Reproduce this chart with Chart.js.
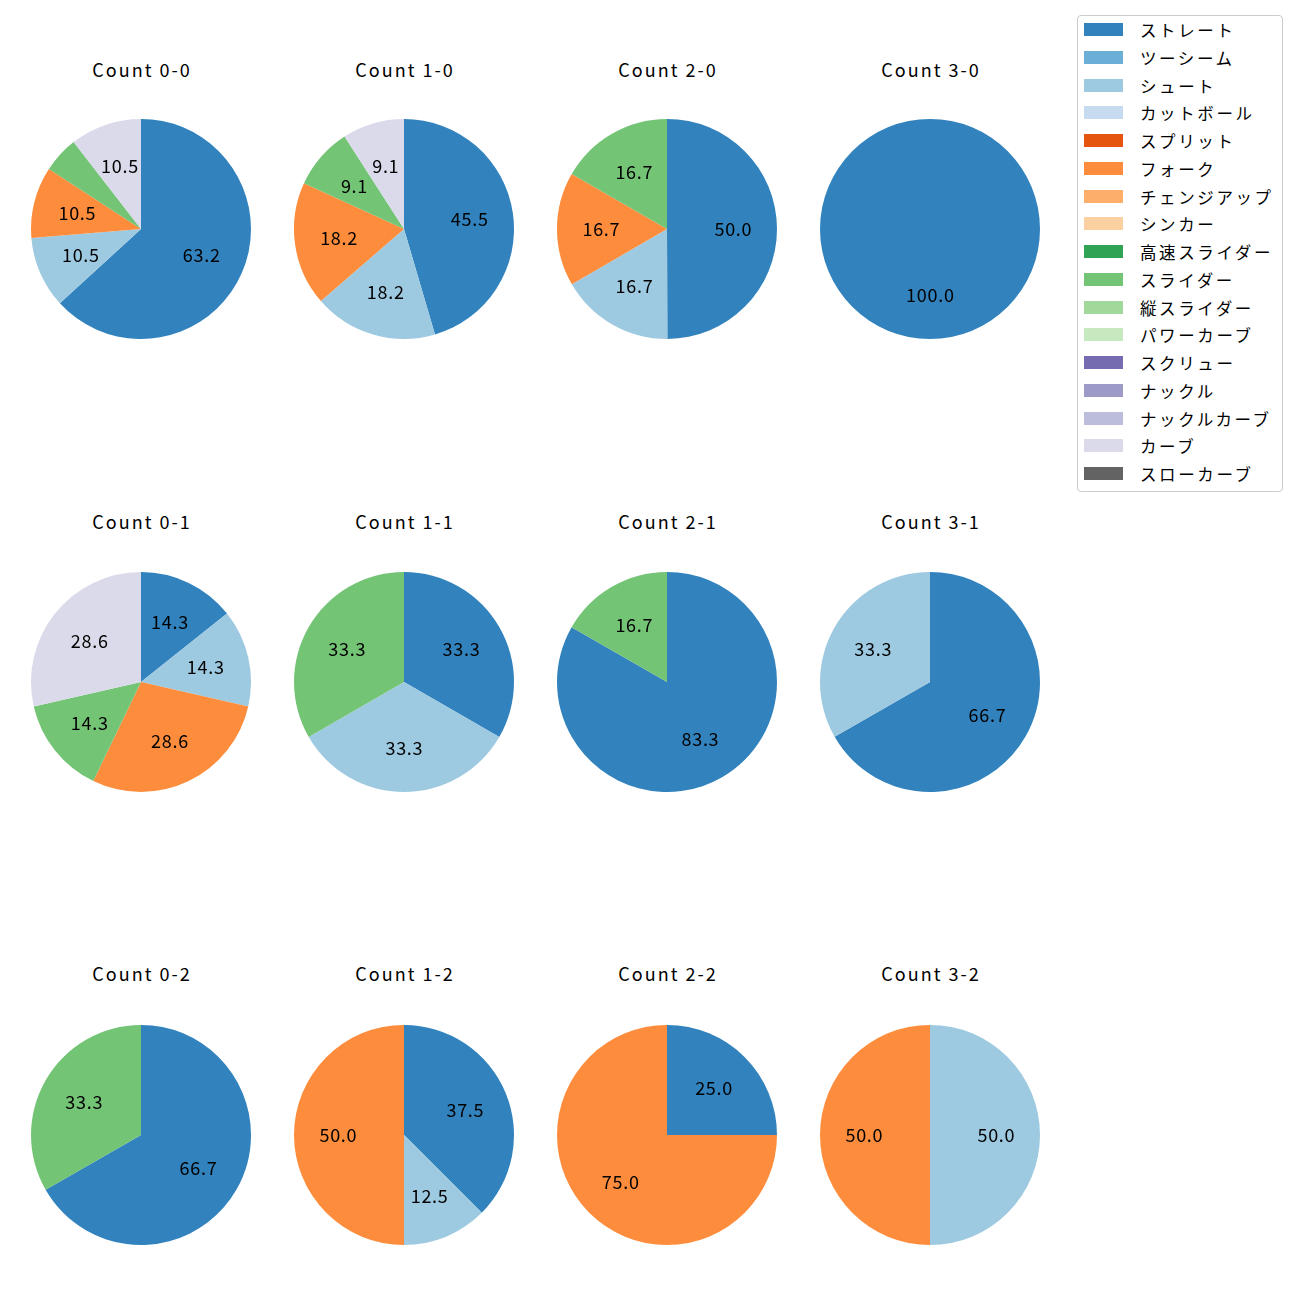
<!DOCTYPE html>
<html>
<head>
<meta charset="utf-8">
<script src="https://cdn.jsdelivr.net/npm/chart.js@4/dist/chart.umd.min.js"></script>
<style>
  html, body { margin: 0; padding: 0; background: #fff; }
  body { width: 1300px; height: 1300px; position: relative; overflow: hidden;
         font-family: "Noto Sans CJK JP", "Noto Sans", sans-serif; }
  .cell { position: absolute; width: 240px; height: 240px; }
  .title { position: absolute; width: 240px; text-align: center; font-size: 18px; color: #000;
           line-height: 20px; letter-spacing: 2px; }
  #legend { position: absolute; left: 1077px; top: 15px; width: 206px; height: 477px;
            border: 1px solid #ccc; border-radius: 4px; background: #fff; box-sizing: border-box; }
  .li { position: absolute; left: 0; height: 20px; font-size: 16.5px; line-height: 20px; white-space: nowrap;
        letter-spacing: 2.6px; }
  .sw { position: absolute; left: 6px; top: 3px; width: 39px; height: 13px; }
  .lt { position: absolute; left: 62px; top: 0; }
</style>
</head>
<body>
<div id="legend"></div>
<script>
// Pitch types (legend order) and their colours
const pitchTypes = ["ストレート","ツーシーム","シュート","カットボール","スプリット","フォーク","チェンジアップ","シンカー","高速スライダー","スライダー","縦スライダー","パワーカーブ","スクリュー","ナックル","ナックルカーブ","カーブ","スローカーブ"];
const pitchColors = ["#3182bd","#6baed6","#9ecae1","#c6dbef","#e6550d","#fd8d3c","#fdae6b","#fdd0a2","#31a354","#74c476","#a1d99b","#c7e9c0","#756bb1","#9e9ac8","#bcbddc","#dadaeb","#636363"];

// Count titles (grid order: rows = strikes, cols = balls)
const countTitles = ["Count 0-0","Count 1-0","Count 2-0","Count 3-0",
                     "Count 0-1","Count 1-1","Count 2-1","Count 3-1",
                     "Count 0-2","Count 1-2","Count 2-2","Count 3-2"];

// Percentages per pitch type (same order as pitchTypes)
const count00 = [63.2,0,10.5,0,0,10.5,0,0,0,5.3,0,0,0,0,0,10.5,0];
const count10 = [45.5,0,18.2,0,0,18.2,0,0,0,9.1,0,0,0,0,0,9.1,0];
const count20 = [50.0,0,16.7,0,0,16.7,0,0,0,16.7,0,0,0,0,0,0,0];
const count30 = [100.0,0,0,0,0,0,0,0,0,0,0,0,0,0,0,0,0];
const count01 = [14.3,0,14.3,0,0,28.6,0,0,0,14.3,0,0,0,0,0,28.6,0];
const count11 = [33.3,0,33.3,0,0,0,0,0,0,33.3,0,0,0,0,0,0,0];
const count21 = [83.3,0,0,0,0,0,0,0,0,16.7,0,0,0,0,0,0,0];
const count31 = [66.7,0,33.3,0,0,0,0,0,0,0,0,0,0,0,0,0,0];
const count02 = [66.7,0,0,0,0,0,0,0,0,33.3,0,0,0,0,0,0,0];
const count12 = [37.5,0,12.5,0,0,50.0,0,0,0,0,0,0,0,0,0,0,0];
const count22 = [25.0,0,0,0,0,75.0,0,0,0,0,0,0,0,0,0,0,0];
const count32 = [0,0,50.0,0,0,50.0,0,0,0,0,0,0,0,0,0,0,0];
const countValues = [count00,count10,count20,count30,count01,count11,count21,count31,count02,count12,count22,count32];

// Layout
const colCenters = [141, 404, 667, 930];
const rowCenters = [229, 682, 1135];
const titleCenters = [69, 521, 973];
const pieRadius = 110;
const canvasSize = 240;

const pctLabels = {
  id: 'pctLabels',
  afterDatasetsDraw(chart) {
    const ctx = chart.ctx;
    const ds = chart.data.datasets[0];
    const total = ds.data.reduce((a, b) => a + b, 0);
    const meta = chart.getDatasetMeta(0);
    ctx.save();
    ctx.font = '18px "Noto Sans CJK JP", "Noto Sans", sans-serif';
    ctx.fillStyle = '#000';
    ctx.textBaseline = 'middle';
    meta.data.forEach((arc, i) => {
      const v = ds.data[i];
      if (!v) return;
      const pct = v / total * 100;
      if (pct < 6) return;
      const p = arc.getProps(['x','y','startAngle','endAngle','outerRadius'], true);
      const mid = (p.startAngle + p.endAngle) / 2;
      const r = p.outerRadius * 0.6;
      const txt = pct.toFixed(1);
      // emulate the wider reference font with manual letter spacing
      const sp = 0.7;
      const widths = [...txt].map(ch => ctx.measureText(ch).width);
      const totalW = widths.reduce((a, b) => a + b, 0) + sp * (txt.length - 1);
      let x = p.x + Math.cos(mid) * r - totalW / 2;
      const y = p.y + Math.sin(mid) * r;
      ctx.textAlign = 'left';
      [...txt].forEach((ch, j) => { ctx.fillText(ch, x, y); x += widths[j] + sp; });
    });
    ctx.restore();
  }
};

countTitles.forEach((title, k) => {
  const row = Math.floor(k / 4), col = k % 4;
  const cx = colCenters[col], cy = rowCenters[row];
  const t = document.createElement('div');
  t.className = 'title';
  t.textContent = title;
  t.style.left = (cx - canvasSize / 2 + 1) + 'px';
  t.style.top = (titleCenters[row] - 10) + 'px';
  document.body.appendChild(t);

  const d = document.createElement('div');
  d.className = 'cell';
  d.style.left = (cx - canvasSize / 2) + 'px';
  d.style.top = (cy - canvasSize / 2) + 'px';
  const c = document.createElement('canvas');
  c.width = canvasSize; c.height = canvasSize;
  d.appendChild(c);
  document.body.appendChild(d);

  new Chart(c, {
    type: 'pie',
    data: {
      labels: pitchTypes,
      datasets: [{
        data: countValues[k],
        backgroundColor: pitchColors,
        borderWidth: 0,
        hoverOffset: 0,
        radius: pieRadius
      }]
    },
    options: {
      responsive: false,
      animation: false,
      events: [],
      layout: { padding: 0 },
      plugins: { legend: { display: false }, tooltip: { enabled: false }, title: { display: false } }
    },
    plugins: [pctLabels]
  });
});

// Legend
const legend = document.getElementById('legend');
pitchTypes.forEach((name, i) => {
  const li = document.createElement('div');
  li.className = 'li';
  li.style.top = (4 + i * 27.75) + 'px';
  const sw = document.createElement('div');
  sw.className = 'sw';
  sw.style.background = pitchColors[i];
  const lt = document.createElement('div');
  lt.className = 'lt';
  lt.textContent = name;
  li.appendChild(sw); li.appendChild(lt);
  legend.appendChild(li);
});
</script>
</body>
</html>
